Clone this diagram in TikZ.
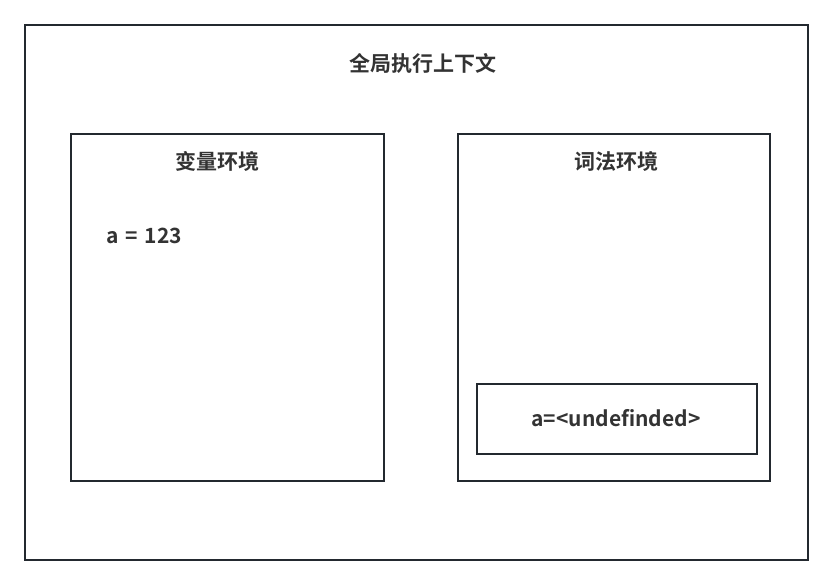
\documentclass[tikz,border=0pt]{standalone}
\usepackage{fontspec}
\setmainfont{Noto Sans CJK SC}[BoldFont={Noto Sans CJK SC Bold}]
\usepackage{tikz}
\definecolor{lineDark}{RGB}{35, 41, 47}
\definecolor{textDark}{RGB}{51, 51, 51}

\begin{document}
\begin{tikzpicture}[x=1pt, y=-1pt, line width=1.5pt]
      % Frame of the picture
      \useasboundingbox (0,0) rectangle (836,585);
      \coordinate (G1) at (25,25);
      \coordinate (G2) at (808,560);
      \coordinate (V1) at (71,134);
      \coordinate (V2) at (384,481);
      \coordinate (L1) at (458,134);
      \coordinate (L2) at (770,481);
      \coordinate (U1) at (477,384);
      \coordinate (U2) at (757,454);

      \draw[lineDark] (G1) rectangle (G2);
      \draw[lineDark] (V1) rectangle (V2);
      \draw[lineDark] (L1) rectangle (L2);
      \draw[lineDark] (U1) rectangle (U2);

      \node[textDark, font=\fontsize{21}{24}\bfseries] (global) at (423,63) {全局执行上下文};
      \node[textDark, font=\fontsize{21}{24}\bfseries] (varenv) at (217,161) {变量环境};
      \node[textDark, font=\fontsize{21}{24}\bfseries] (lexenv) at (616,161) {词法环境};
      \node[textDark, font=\fontsize{21}{24}\bfseries, anchor=west] (vara) at (102,236) {a\,\,=\,\,123};
      \node[textDark, font=\fontsize{21}{24}\bfseries] (lexa) at (616,418) {a=<undefinded>};
\end{tikzpicture}
\end{document}
